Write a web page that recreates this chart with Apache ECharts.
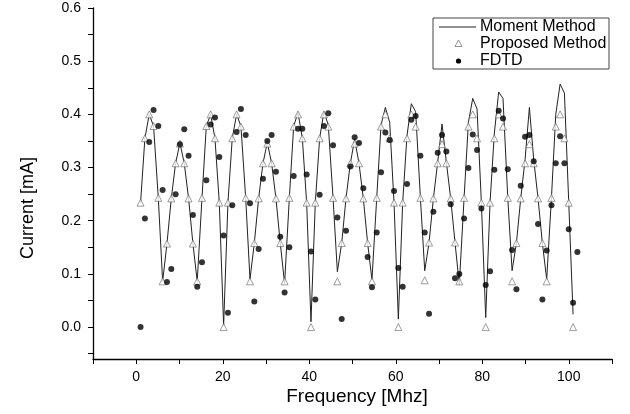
<!DOCTYPE html>
<html>
<head>
<meta charset="utf-8">
<script src="https://cdn.jsdelivr.net/npm/echarts@6/dist/echarts.min.js"></script>
<style>
  html, body { margin: 0; padding: 0; background: #fff; }
  #chart { width: 630px; height: 414px; }
</style>
</head>
<body>
<div id="chart"></div>
<script>
// sample frequencies [MHz] (FDTD has one extra sample at the end)
const freq = [
  1.0, 2.0, 3.0, 4.0, 5.1, 6.1, 7.1, 8.1, 9.1, 10.1,
  11.1, 12.1, 13.1, 14.1, 15.2, 16.2, 17.2, 18.2, 19.2, 20.2,
  21.2, 22.2, 23.2, 24.2, 25.3, 26.3, 27.3, 28.3, 29.3, 30.3,
  31.3, 32.3, 33.3, 34.3, 35.4, 36.4, 37.4, 38.4, 39.4, 40.4,
  41.4, 42.4, 43.4, 44.4, 45.5, 46.5, 47.5, 48.5, 49.5, 50.5,
  51.5, 52.5, 53.5, 54.5, 55.6, 56.6, 57.6, 58.6, 59.6, 60.6,
  61.6, 62.6, 63.6, 64.6, 65.7, 66.7, 67.7, 68.7, 69.7, 70.7,
  71.7, 72.7, 73.7, 74.7, 75.8, 76.8, 77.8, 78.8, 79.8, 80.8,
  81.8, 82.8, 83.8, 84.8, 85.9, 86.9, 87.9, 88.9, 89.9, 90.9,
  91.9, 92.9, 93.9, 94.9, 96.0, 97.0, 98.0, 99.0, 100.0, 101.0,
  102.0
];

// Moment Method (solid line)
const momentMethod = [
  0.234, 0.355, 0.400, 0.378, 0.243, 0.086, 0.157, 0.242, 0.308, 0.346,
  0.308, 0.242, 0.157, 0.086, 0.243, 0.378, 0.400, 0.355, 0.234, 0.003,
  0.234, 0.355, 0.400, 0.378, 0.243, 0.090, 0.158, 0.242, 0.308, 0.347,
  0.308, 0.242, 0.158, 0.082, 0.243, 0.378, 0.403, 0.355, 0.234, 0.010,
  0.234, 0.355, 0.405, 0.380, 0.243, 0.104, 0.158, 0.242, 0.308, 0.353,
  0.308, 0.242, 0.158, 0.089, 0.243, 0.380, 0.413, 0.385, 0.234, 0.015,
  0.234, 0.360, 0.420, 0.405, 0.243, 0.106, 0.159, 0.242, 0.310, 0.382,
  0.310, 0.242, 0.159, 0.080, 0.243, 0.385, 0.430, 0.410, 0.234, 0.018,
  0.234, 0.365, 0.442, 0.430, 0.243, 0.106, 0.158, 0.242, 0.315, 0.413,
  0.315, 0.242, 0.158, 0.090, 0.243, 0.400, 0.457, 0.440, 0.234, 0.024
];

// Proposed Method (hollow triangles)
const proposedMethod = [
  0.234, 0.355, 0.400, 0.378, 0.243, 0.086, 0.157, 0.242, 0.308, 0.345,
  0.308, 0.242, 0.157, 0.086, 0.243, 0.378, 0.400, 0.355, 0.234, 0.000,
  0.234, 0.355, 0.400, 0.377, 0.243, 0.086, 0.158, 0.242, 0.308, 0.345,
  0.308, 0.242, 0.158, 0.086, 0.243, 0.377, 0.400, 0.355, 0.234, 0.000,
  0.234, 0.355, 0.400, 0.377, 0.243, 0.086, 0.158, 0.242, 0.308, 0.345,
  0.308, 0.242, 0.158, 0.086, 0.243, 0.377, 0.400, 0.355, 0.234, 0.000,
  0.234, 0.355, 0.400, 0.377, 0.243, 0.088, 0.159, 0.242, 0.308, 0.344,
  0.308, 0.242, 0.159, 0.086, 0.243, 0.377, 0.400, 0.355, 0.234, 0.000,
  0.234, 0.355, 0.400, 0.377, 0.243, 0.086, 0.158, 0.242, 0.308, 0.344,
  0.308, 0.242, 0.158, 0.086, 0.243, 0.377, 0.400, 0.355, 0.234, 0.000
];

// FDTD (filled dots)
const fdtd = [
  0.000, 0.204, 0.348, 0.408, 0.378, 0.258, 0.085, 0.109, 0.250, 0.344,
  0.372, 0.322, 0.211, 0.076, 0.122, 0.276, 0.381, 0.394, 0.320, 0.172,
  0.027, 0.229, 0.367, 0.410, 0.361, 0.233, 0.048, 0.147, 0.279, 0.350,
  0.361, 0.292, 0.170, 0.065, 0.150, 0.284, 0.373, 0.373, 0.287, 0.142,
  0.052, 0.249, 0.378, 0.402, 0.342, 0.206, 0.015, 0.181, 0.302, 0.357,
  0.346, 0.261, 0.132, 0.075, 0.178, 0.291, 0.366, 0.352, 0.256, 0.111,
  0.076, 0.269, 0.390, 0.397, 0.322, 0.178, 0.025, 0.217, 0.328, 0.361,
  0.330, 0.231, 0.092, 0.100, 0.204, 0.299, 0.362, 0.333, 0.223, 0.079,
  0.105, 0.296, 0.407, 0.392, 0.297, 0.145, 0.071, 0.266, 0.358, 0.361,
  0.312, 0.194, 0.052, 0.144, 0.229, 0.308, 0.359, 0.308, 0.184, 0.046,
  0.141
];

const xLabels = [0, 20, 40, 60, 80, 100];
const xTicks = [-10, 0, 10, 20, 30, 40, 50, 60, 70, 80, 90, 100, 110];
const yLabels = [0, 0.1, 0.2, 0.3, 0.4, 0.5, 0.6];
const yTicks = [-0.05, 0, 0.05, 0.1, 0.15, 0.2, 0.25, 0.3, 0.35, 0.4, 0.45, 0.5, 0.55, 0.6];
const legendNames = ['Moment Method', 'Proposed Method', 'FDTD'];
const xTitle = 'Frequency [Mhz]';
const yTitle = 'Current [mA]';

const pairs = (ys) => ys.map((v, i) => [freq[i], v]);

const font = 'Liberation Sans, Arial, sans-serif';

const chart = echarts.init(document.getElementById('chart'), null, { renderer: 'canvas' });

chart.setOption({
  animation: false,
  backgroundColor: '#fff',
  grid: { left: 93, right: 18, top: 8, bottom: 55 },
  graphic: [
    // axis titles (placed like in the original, slightly off-centre)
    { type: 'text', x: 357, y: 397,
      style: { text: xTitle, fill: '#000', font: '19px ' + font, align: 'center', verticalAlign: 'middle' } },
    { type: 'text', x: 28, y: 208, rotation: Math.PI / 2,
      style: { text: yTitle, fill: '#000', font: '18px ' + font, align: 'center', verticalAlign: 'middle' } },
    // legend box drawn by hand so the sample marks stay small like the original
    { type: 'rect', shape: { x: 433, y: 18, width: 176, height: 51 },
      style: { fill: '#fff', stroke: '#444', lineWidth: 1 }, z: 19 },
    { type: 'line', shape: { x1: 439, y1: 27, x2: 476, y2: 27 },
      style: { stroke: '#222', lineWidth: 1 }, z: 20 },
    { type: 'polygon', shape: { points: [[458.5, 40], [462, 46.5], [455, 46.5]] },
      style: { fill: '#fff', stroke: '#777', lineWidth: 0.8 }, z: 20 },
    { type: 'circle', shape: { cx: 458.5, cy: 61, r: 2.6 },
      style: { fill: '#000' }, z: 20 },
    { type: 'text', x: 480, y: 27,
      style: { text: legendNames[0], fill: '#000', font: '16px ' + font, verticalAlign: 'middle' }, z: 20 },
    { type: 'text', x: 480, y: 44,
      style: { text: legendNames[1], fill: '#000', font: '16px ' + font, verticalAlign: 'middle' }, z: 20 },
    { type: 'text', x: 480, y: 61,
      style: { text: legendNames[2], fill: '#000', font: '16px ' + font, verticalAlign: 'middle' }, z: 20 }
  ],
  xAxis: {
    type: 'value',
    min: -10,
    max: 110,
    axisLine: { show: true, onZero: false, lineStyle: { color: '#000', width: 1.3 } },
    axisTick: { show: true, inside: false, length: 5, customValues: xTicks, lineStyle: { color: '#000', width: 1 } },
    axisLabel: { customValues: xLabels, margin: 11, fontFamily: font, fontSize: 14, color: '#000' },
    splitLine: { show: false }
  },
  yAxis: {
    type: 'value',
    min: -0.06,
    max: 0.6,
    axisLine: { show: true, onZero: false, lineStyle: { color: '#000', width: 1.3 } },
    axisTick: { show: true, inside: false, length: 5, customValues: yTicks, lineStyle: { color: '#000', width: 1 } },
    axisLabel: {
      customValues: yLabels, margin: 12, fontFamily: font, fontSize: 14, color: '#000',
      formatter: (v) => v.toFixed(1)
    },
    splitLine: { show: false }
  },
  series: [
    {
      name: legendNames[0],
      type: 'line',
      data: pairs(momentMethod),
      symbol: 'none',
      lineStyle: { color: '#222', width: 1 },
      itemStyle: { color: '#222' },
      z: 2
    },
    {
      name: legendNames[1],
      type: 'scatter',
      data: pairs(proposedMethod),
      symbol: 'triangle',
      symbolSize: 7,
      itemStyle: { color: '#fff', borderColor: '#666', borderWidth: 0.8 },
      z: 3
    },
    {
      name: legendNames[2],
      type: 'scatter',
      data: pairs(fdtd),
      symbol: 'circle',
      symbolSize: 6,
      itemStyle: { color: '#000' },
      z: 4
    }
  ]
});
</script>
</body>
</html>
